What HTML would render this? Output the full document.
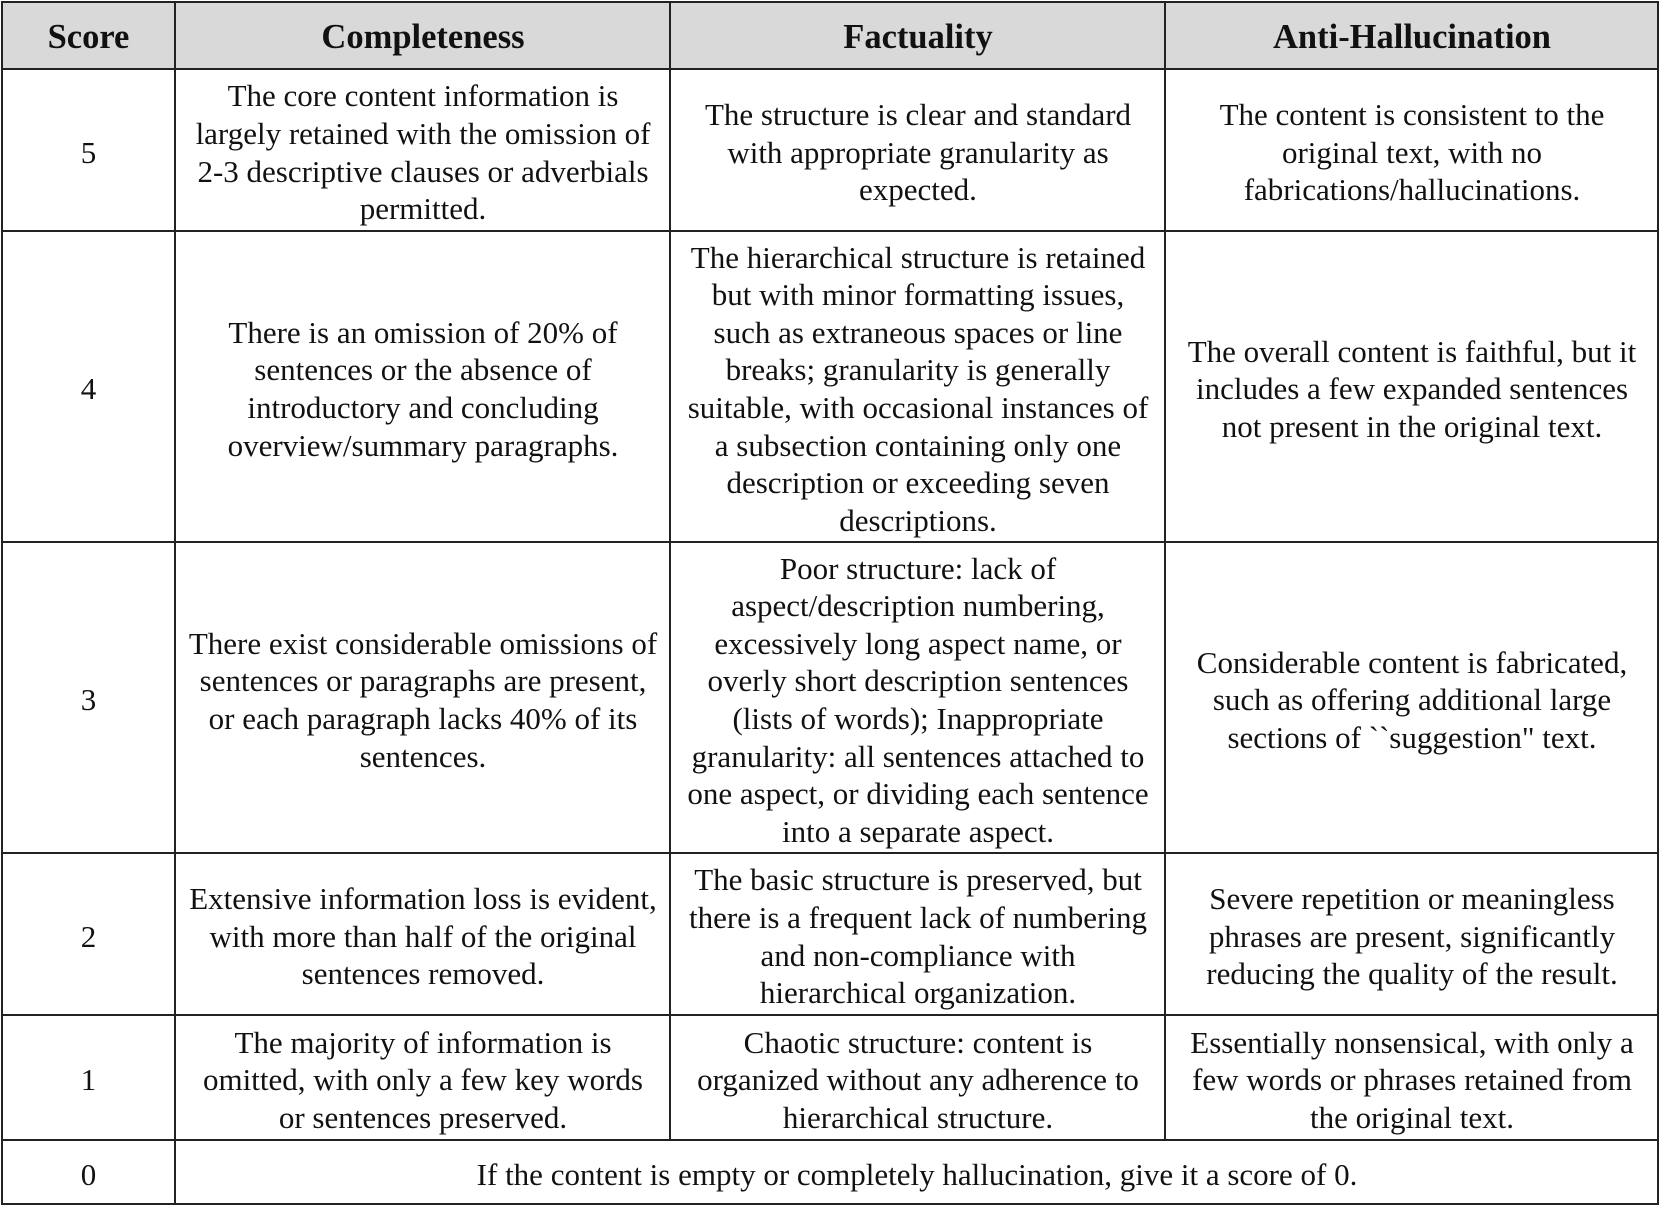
<!DOCTYPE html>
<html><head><meta charset="utf-8">
<style>
html,body{margin:0;padding:0;background:#fff;}
body{width:1661px;height:1207px;position:relative;overflow:hidden;font-family:"Liberation Serif","Times New Roman",serif;color:#111;}
.c{position:absolute;display:flex;align-items:center;justify-content:center;text-align:center;font-size:31px;line-height:37.6px;box-sizing:border-box;white-space:nowrap;padding-top:4px;}
.h{font-weight:bold;font-size:34.5px;}
.hl{position:absolute;background:#222;height:2px;left:1px;width:1658px;}
.vl{position:absolute;background:#222;width:2px;}
</style></head><body>
<div style="position:absolute;left:2px;top:2px;width:1656px;height:67px;background:#d9d9d9"></div>

<div class="hl" style="top:1px"></div>
<div class="hl" style="top:68px"></div>
<div class="hl" style="top:230px"></div>
<div class="hl" style="top:541px"></div>
<div class="hl" style="top:852px"></div>
<div class="hl" style="top:1014px"></div>
<div class="hl" style="top:1139px"></div>
<div class="hl" style="top:1203px"></div>
<div class="vl" style="left:1px;top:1px;height:1204px"></div>
<div class="vl" style="left:174px;top:1px;height:1204px"></div>
<div class="vl" style="left:669px;top:1px;height:1140px"></div>
<div class="vl" style="left:1164px;top:1px;height:1140px"></div>
<div class="vl" style="left:1657px;top:1px;height:1204px"></div>

<div class="c h" style="left:2px;top:2px;width:173px;height:67px">Score</div>
<div class="c h" style="left:176px;top:2px;width:494px;height:67px">Completeness</div>
<div class="c h" style="left:671px;top:2px;width:494px;height:67px">Factuality</div>
<div class="c h" style="left:1166px;top:2px;width:492px;height:67px">Anti-Hallucination</div>

<div class="c" style="left:2px;top:70px;width:173px;height:161px">5</div>
<div class="c" style="left:176px;top:70px;width:494px;height:161px">The core content information is<br>largely retained with the omission of<br>2-3 descriptive clauses or adverbials<br>permitted.</div>
<div class="c" style="left:671px;top:70px;width:494px;height:161px">The structure is clear and standard<br>with appropriate granularity as<br>expected.</div>
<div class="c" style="left:1166px;top:70px;width:492px;height:161px">The content is consistent to the<br>original text, with no<br>fabrications/hallucinations.</div>

<div class="c" style="left:2px;top:232px;width:173px;height:310px">4</div>
<div class="c" style="left:176px;top:232px;width:494px;height:310px">There is an omission of 20% of<br>sentences or the absence of<br>introductory and concluding<br>overview/summary paragraphs.</div>
<div class="c" style="left:671px;top:232px;width:494px;height:310px">The hierarchical structure is retained<br>but with minor formatting issues,<br>such as extraneous spaces or line<br>breaks; granularity is generally<br>suitable, with occasional instances of<br>a subsection containing only one<br>description or exceeding seven<br>descriptions.</div>
<div class="c" style="left:1166px;top:232px;width:492px;height:310px">The overall content is faithful, but it<br>includes a few expanded sentences<br>not present in the original text.</div>

<div class="c" style="left:2px;top:543px;width:173px;height:310px">3</div>
<div class="c" style="left:176px;top:543px;width:494px;height:310px">There exist considerable omissions of<br>sentences or paragraphs are present,<br>or each paragraph lacks 40% of its<br>sentences.</div>
<div class="c" style="left:671px;top:543px;width:494px;height:310px">Poor structure: lack of<br>aspect/description numbering,<br>excessively long aspect name, or<br>overly short description sentences<br>(lists of words); Inappropriate<br>granularity: all sentences attached to<br>one aspect, or dividing each sentence<br>into a separate aspect.</div>
<div class="c" style="left:1166px;top:543px;width:492px;height:310px">Considerable content is fabricated,<br>such as offering additional large<br>sections of ``suggestion" text.</div>

<div class="c" style="left:2px;top:854px;width:173px;height:161px">2</div>
<div class="c" style="left:176px;top:854px;width:494px;height:161px">Extensive information loss is evident,<br>with more than half of the original<br>sentences removed.</div>
<div class="c" style="left:671px;top:854px;width:494px;height:161px">The basic structure is preserved, but<br>there is a frequent lack of numbering<br>and non-compliance with<br>hierarchical organization.</div>
<div class="c" style="left:1166px;top:854px;width:492px;height:161px">Severe repetition or meaningless<br>phrases are present, significantly<br>reducing the quality of the result.</div>

<div class="c" style="left:2px;top:1016px;width:173px;height:124px">1</div>
<div class="c" style="left:176px;top:1016px;width:494px;height:124px">The majority of information is<br>omitted, with only a few key words<br>or sentences preserved.</div>
<div class="c" style="left:671px;top:1016px;width:494px;height:124px">Chaotic structure: content is<br>organized without any adherence to<br>hierarchical structure.</div>
<div class="c" style="left:1166px;top:1016px;width:492px;height:124px">Essentially nonsensical, with only a<br>few words or phrases retained from<br>the original text.</div>

<div class="c" style="left:2px;top:1141px;width:173px;height:63px">0</div>
<div class="c" style="left:176px;top:1141px;width:1482px;height:63px">If the content is empty or completely hallucination, give it a score of 0.</div>
</body></html>
